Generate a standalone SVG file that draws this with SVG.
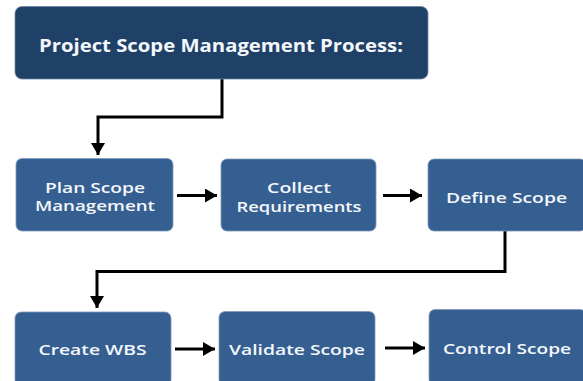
<svg xmlns="http://www.w3.org/2000/svg" width="583" height="381" viewBox="0 0 583 381">
  <defs>
    <marker id="arrow" viewBox="0 0 12 14" refX="12" refY="7" markerWidth="12" markerHeight="14" markerUnits="userSpaceOnUse" orient="auto">
      <path d="M0,0 L12,7 L0,14 Z" fill="#000"/>
    </marker>
    <style>
      .head { fill: #1f4168; stroke: #6d86a6; stroke-width: 0.8; }
      .step { fill: #365f91; stroke: #7f9abb; stroke-width: 0.8; }
      .label { font-family: "Open Sans", "Noto Sans", "Liberation Sans", sans-serif; font-weight: 600; fill: #f4f7fb; text-anchor: middle; }
      .title { font-size: 17px; font-weight: 700; }
      .txt { font-size: 15px; }
      .link { fill: none; stroke: #000; stroke-width: 3; marker-end: url(#arrow); }
    </style>
  </defs>

  <rect width="583" height="381" fill="#ffffff"/>

  <g id="connectors">
    <path class="link" d="M222,79 V117 H98 V155"/>
    <path class="link" d="M177,195.5 H217"/>
    <path class="link" d="M383,195.5 H422"/>
    <path class="link" d="M505,231 V271.5 H97 V308"/>
    <path class="link" d="M175,349 H215"/>
    <path class="link" d="M385,348 H425"/>
  </g>

  <g id="node-process">
    <rect class="head" x="15" y="6.5" width="413" height="72.5" rx="7"/>
    <text class="label title" x="221" y="51.5" textLength="364" lengthAdjust="spacingAndGlyphs">Project Scope Management Process:</text>
  </g>

  <g id="node-plan">
    <rect class="step" x="16" y="158.5" width="157" height="72.5" rx="6"/>
    <text class="label txt" x="95" y="192.5" textLength="100" lengthAdjust="spacingAndGlyphs">Plan Scope</text>
    <text class="label txt" x="95" y="211" textLength="120" lengthAdjust="spacingAndGlyphs">Management</text>
  </g>

  <g id="node-collect">
    <rect class="step" x="221" y="159" width="155" height="72" rx="6"/>
    <text class="label txt" x="299" y="192.5" textLength="64" lengthAdjust="spacingAndGlyphs">Collect</text>
    <text class="label txt" x="299" y="211.5" textLength="125" lengthAdjust="spacingAndGlyphs">Requirements</text>
  </g>

  <g id="node-define">
    <rect class="step" x="428" y="159" width="158" height="72" rx="6"/>
    <text class="label txt" x="506.5" y="202.5" textLength="121" lengthAdjust="spacingAndGlyphs">Define Scope</text>
  </g>

  <g id="node-wbs">
    <rect class="step" x="15" y="312" width="156" height="74" rx="6"/>
    <text class="label txt" x="92.5" y="355" textLength="108" lengthAdjust="spacingAndGlyphs">Create WBS</text>
  </g>

  <g id="node-validate">
    <rect class="step" x="219" y="311.5" width="156" height="74" rx="6"/>
    <text class="label txt" x="297" y="355" textLength="136" lengthAdjust="spacingAndGlyphs">Validate Scope</text>
  </g>

  <g id="node-control">
    <rect class="step" x="429" y="309.5" width="157" height="76" rx="6"/>
    <text class="label txt" x="507" y="354" textLength="128" lengthAdjust="spacingAndGlyphs">Control Scope</text>
  </g>
</svg>
